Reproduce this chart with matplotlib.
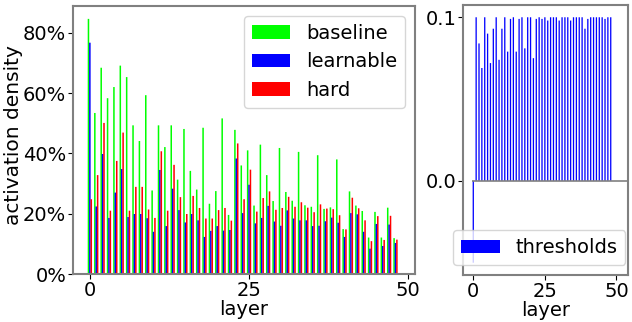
import matplotlib
matplotlib.use("Agg")
import matplotlib.pyplot as plt
import numpy as np
from matplotlib.ticker import PercentFormatter, FormatStrFormatter

# activation density per layer (percent)
baseline = [84.6, 53.4, 68.4, 58.3, 62.0, 69.1, 65.3, 49.3, 44.1, 59.3,
            27.7, 49.3, 42.1, 49.3, 31.3, 48.1, 34.2, 28.0, 48.5, 23.3,
            27.5, 51.6, 19.6, 47.8, 36.0, 41.0, 22.7, 42.9, 32.8, 24.2,
            41.8, 27.2, 24.3, 40.5, 22.8, 22.3, 39.4, 21.6, 22.1, 38.0,
            14.9, 27.4, 22.7, 20.9, 12.1, 20.6, 12.1, 22.0, 11.9]
learnable = [76.7, 22.4, 39.8, 18.6, 27.0, 34.8, 18.9, 19.9, 19.9, 18.5,
             14.0, 34.5, 15.9, 28.3, 21.2, 17.1, 19.9, 17.8, 12.3, 14.3,
             15.9, 14.4, 14.6, 38.3, 20.2, 29.6, 16.8, 18.6, 22.6, 17.4,
             16.0, 21.1, 18.4, 17.8, 17.8, 15.9, 16.0, 17.5, 18.7, 17.0,
             12.3, 20.2, 19.8, 14.0, 8.4, 16.6, 9.3, 16.4, 10.3]
hard = [24.8, 32.8, 50.1, 21.0, 37.5, 46.9, 21.0, 28.9, 28.9, 21.4,
        18.6, 40.7, 21.0, 36.2, 25.5, 19.9, 25.9, 21.9, 18.4, 18.4,
        21.2, 21.9, 17.7, 43.3, 24.8, 34.6, 20.7, 25.2, 27.4, 21.3,
        21.9, 25.6, 22.3, 23.8, 22.0, 20.5, 23.1, 21.7, 21.5, 19.5,
        14.8, 25.3, 21.8, 17.8, 10.9, 19.2, 11.3, 19.3, 11.4]
thresholds = [-0.05, 0.1, 0.084, 0.069, 0.1, 0.09, 0.072, 0.093, 0.1, 0.074,
              0.093, 0.1, 0.079, 0.099, 0.1, 0.079, 0.099, 0.1, 0.081, 0.1,
              0.1, 0.075, 0.099, 0.1, 0.099, 0.1, 0.098, 0.1, 0.1, 0.1,
              0.098, 0.1, 0.1, 0.1, 0.098, 0.1, 0.1, 0.1, 0.1, 0.093,
              0.099, 0.1, 0.1, 0.1, 0.1, 0.1, 0.099, 0.1, 0.1]
layers = np.arange(len(baseline))

fs = 14
spine_col = '#808080'

fig = plt.figure(figsize=(6.32, 3.22), dpi=100)
ax1 = fig.add_axes([0.116, 0.149, 0.540, 0.832])
ax2 = fig.add_axes([0.733, 0.146, 0.261, 0.8385])

# left: grouped bars
w = 0.24
off = 0.22
ax1.bar(layers - off, baseline, width=w, color='#00ff00', label='baseline', snap=False)
ax1.bar(layers, learnable, width=w, color='#0000ff', label='learnable', snap=False)
ax1.bar(layers + off, hard, width=w, color='#ff0000', label='hard', snap=False)
ax1.set_xlim(-2.6, 51.0)
ax1.set_xticks([0, 25, 50])
ax1.set_yticks([0, 20, 40, 60, 80])
ax1.yaxis.set_major_formatter(PercentFormatter(xmax=100, decimals=0))
ax1.set_xlabel('layer', fontsize=fs, labelpad=0)
ax1.set_ylabel('activation density', fontsize=14.5)
ax1.yaxis.set_label_coords(-0.148, 0.52)
ax1.legend(loc='upper right', fontsize=fs)

# right: thresholds
ax2.bar(layers, thresholds, width=0.45, color='#0000ff', label='thresholds', snap=False)
ax2.hlines(0, -0.5, 54.1, color=spine_col, lw=1.2)
ax2.set_xlim(-3.5, 54.1)
ax2.set_xticks([0, 25, 50])
ax2.set_yticks([0.0, 0.1])
ax2.yaxis.set_major_formatter(FormatStrFormatter('%.1f'))
ax2.set_xlabel('layer', fontsize=fs, labelpad=0)
ax2.legend(loc='lower center', bbox_to_anchor=(0.462, 0.037),
           borderaxespad=0, fontsize=fs)

for ax in (ax1, ax2):
    for s in ax.spines.values():
        s.set_color(spine_col)
        s.set_linewidth(1.5)
    ax.tick_params(labelsize=14, length=3.5, pad=1.5)

fig.savefig('out.png', dpi=100)
